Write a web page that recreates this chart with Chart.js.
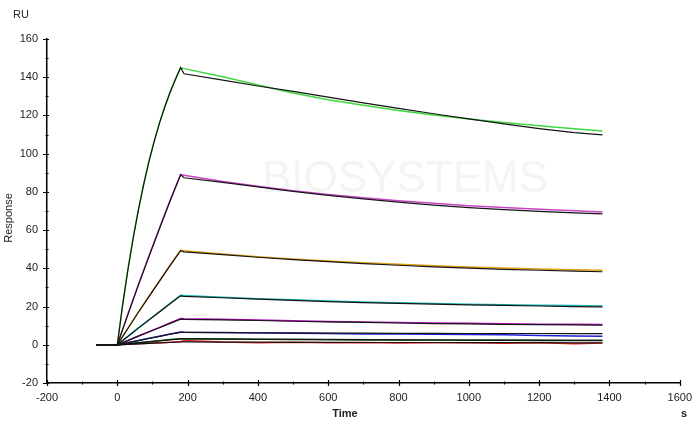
<!DOCTYPE html>
<html>
<head>
<meta charset="utf-8">
<script src="https://cdn.jsdelivr.net/npm/chart.js@4.4.1/dist/chart.umd.min.js"></script>
<style>
  html, body { margin: 0; padding: 0; background: #fff; }
  #c { display: block; }
</style>
</head>
<body>
<canvas id="c" width="700" height="433"></canvas>
<script>
// ---- Data ----
const times = [-60, 0, 30, 60, 90, 120, 150, 180, 190, 300, 400, 500, 600, 700, 800, 900, 1000, 1100, 1200, 1300, 1380];
// the highest curve is sampled more finely during association (it bends visibly)
const timesTop = [-60, 0, 15, 30, 45, 60, 75, 90, 105, 120, 135, 150, 165, 180, 190, 300, 400, 500, 600, 700, 800, 900, 1000, 1100, 1200, 1300, 1380];

const green     = [0, 0, 20.8, 39.4, 56.0, 70.9, 84.2, 96.1, 106.7, 116.2, 124.6, 132.2, 138.9, 145.0, 144.5, 140.2, 135.9, 131.7, 128.2, 125.3, 122.6, 120.2, 118.1, 116.3, 114.6, 113.0, 111.9];
const fitGreen  = [0, 0, 20.6, 39.0, 55.6, 70.5, 83.8, 95.8, 106.4, 116.0, 124.4, 132.0, 138.7, 145.0, 141.8, 138.5, 135.4, 132.6, 129.6, 126.6, 123.7, 120.9, 118.2, 115.6, 113.1, 111.0, 109.8];

const magenta   = [0, 0, 16.0, 31.5, 46.5, 61.0, 75.5, 89.0, 88.7, 85.4, 82.9, 80.6, 78.6, 76.9, 75.3, 74.0, 72.8, 71.8, 70.9, 70.1, 69.5];
const orange    = [0, 0, 8.6, 17.1, 25.4, 33.5, 41.6, 49.4, 49.2, 47.5, 46.1, 44.9, 43.8, 42.9, 42.1, 41.4, 40.7, 40.2, 39.7, 39.3, 39.0];
const cyan      = [0, 0, 4.4, 8.8, 13.1, 17.4, 21.7, 25.9, 25.8, 24.9, 24.1, 23.5, 22.9, 22.4, 22.0, 21.6, 21.2, 20.9, 20.7, 20.5, 20.3];
const purple    = [0, 0, 2.3, 4.6, 6.9, 9.1, 11.4, 13.7, 13.6, 13.3, 13.0, 12.6, 12.2, 11.9, 11.6, 11.4, 11.2, 11.0, 10.8, 10.7, 10.6];
const blue      = [0, 0, 1.1, 2.2, 3.4, 4.5, 5.6, 6.7, 6.6, 6.4, 6.2, 6.0, 5.9, 5.7, 5.6, 5.5, 5.4, 5.3, 4.9, 4.6, 4.4];
const darkGreen = [0, 0, 0.5, 1.1, 1.6, 2.1, 2.7, 3.2, 3.2, 3.0, 2.9, 2.8, 2.7, 2.6, 2.5, 2.5, 2.4, 2.4, 2.3, 2.3, 2.2];
const red       = [0, 0, 0.3, 0.5, 0.8, 1.1, 1.3, 1.6, 2.2, 1.4, 1.1, 1.3, 1.0, 1.2, 0.9, 1.1, 1.0, 0.8, 1.0, 0.6, 0.9];

const fitMagenta   = [0, 0, 15.8, 31.2, 46.2, 60.8, 75.2, 89.0, 87.4, 85.0, 82.6, 80.3, 78.2, 76.3, 74.6, 73.1, 71.8, 70.7, 69.8, 69.0, 68.5];
const fitOrange    = [0, 0, 8.5, 17.0, 25.2, 33.3, 41.4, 49.2, 48.6, 47.2, 45.8, 44.6, 43.5, 42.5, 41.6, 40.8, 40.1, 39.5, 39.0, 38.5, 38.2];
const fitCyan      = [0, 0, 4.3, 8.7, 13.0, 17.2, 21.5, 25.6, 25.3, 24.6, 23.9, 23.2, 22.6, 22.1, 21.7, 21.3, 20.9, 20.6, 20.3, 20.0, 19.8];
const fitPurple    = [0, 0, 2.2, 4.5, 6.7, 8.9, 11.2, 13.4, 13.3, 13.0, 12.7, 12.3, 12.0, 11.7, 11.4, 11.1, 10.9, 10.7, 10.5, 10.4, 10.3];
const fitBlue      = [0, 0, 1.1, 2.2, 3.3, 4.4, 5.5, 6.5, 6.5, 6.4, 6.3, 6.2, 6.1, 6.1, 6.0, 6.0, 5.9, 5.9, 5.9, 5.8, 5.8];
const fitDarkGreen = [0, 0, 0.5, 1.0, 1.5, 2.1, 2.6, 3.1, 3.1, 3.0, 2.9, 2.8, 2.7, 2.6, 2.6, 2.5, 2.5, 2.4, 2.4, 2.3, 2.3];
const fitRed       = [0, 0, 0.2, 0.5, 0.7, 1.0, 1.2, 1.5, 1.5, 1.4, 1.4, 1.3, 1.3, 1.2, 1.2, 1.2, 1.1, 1.1, 1.1, 1.0, 1.0];

const xTicks = [-200, 0, 200, 400, 600, 800, 1000, 1200, 1400, 1600];
const yTicks = [-20, 0, 20, 40, 60, 80, 100, 120, 140, 160];

const dataSeries = [
  { name: 'c1', t: timesTop, values: green,     color: '#3fd83f', fit: fitGreen },
  { name: 'c2', t: times,    values: magenta,   color: '#c844c8', fit: fitMagenta },
  { name: 'c3', t: times,    values: orange,    color: '#e0a010', fit: fitOrange },
  { name: 'c4', t: times,    values: cyan,      color: '#1cb8b8', fit: fitCyan },
  { name: 'c5', t: times,    values: purple,    color: '#c010c8', fit: fitPurple },
  { name: 'c6', t: times,    values: blue,      color: '#2020d0', fit: fitBlue },
  { name: 'c7', t: times,    values: darkGreen, color: '#004a00', fit: fitDarkGreen },
  { name: 'c8', t: times,    values: red,       color: '#f02020', fit: fitRed }
];

const toPts = (tt, vals) => tt.map((t, i) => ({ x: t, y: vals[i] }));

const datasets = [];
dataSeries.forEach(s => datasets.push({
  label: s.name, data: toPts(s.t, s.values), borderColor: s.color, borderWidth: 1.5,
  pointRadius: 0, fill: false, tension: 0, order: 2
}));
dataSeries.forEach(s => datasets.push({
  label: s.name + ' fit', data: toPts(s.t, s.fit), borderColor: '#141414', borderWidth: 1.2,
  pointRadius: 0, fill: false, tension: 0, order: 1
}));

const FONT = "'Liberation Sans', Arial, sans-serif";

const decor = {
  id: 'decor',
  beforeDatasetsDraw(chart) {
    const ctx = chart.ctx;
    ctx.save();
    ctx.fillStyle = '#f4f4f4';
    ctx.font = "44px 'Liberation Sans', Arial, sans-serif";
    ctx.textAlign = 'left';
    ctx.textBaseline = 'middle';
    ctx.fillText('BIOSYSTEMS', 262, 180);
    ctx.restore();
  },
  afterDraw(chart) {
    const ctx = chart.ctx;
    const xs = chart.scales.x, ys = chart.scales.y;
    const ax = chart.chartArea.left, ay = chart.chartArea.bottom;
    ctx.save();
    ctx.strokeStyle = '#000';
    ctx.lineWidth = 1.2;
    ctx.beginPath();
    for (let v = -20; v <= 160; v += 10) {
      const py = Math.round(ys.getPixelForValue(v)) + 0.5;
      const major = v % 20 === 0;
      ctx.moveTo(ax - (major ? 4 : 1.5), py);
      ctx.lineTo(ax + (major ? 2 : 1.5), py);
    }
    for (let v = -200; v <= 1600; v += 100) {
      const px = Math.round(xs.getPixelForValue(v)) + 0.5;
      const major = v % 200 === 0;
      ctx.moveTo(px, ay - (major ? 3 : 1.5));
      ctx.lineTo(px, ay + (major ? 3 : 1.5));
    }
    ctx.stroke();

    ctx.fillStyle = '#222';
    ctx.font = "11px " + FONT;
    ctx.textAlign = 'left';
    ctx.textBaseline = 'middle';
    ctx.fillText('RU', 13, 15);
    ctx.save();
    ctx.translate(9, 218);
    ctx.rotate(-Math.PI / 2);
    ctx.textAlign = 'center';
    ctx.fillText('Response', 0, 0);
    ctx.restore();
    ctx.font = "bold 11px " + FONT;
    ctx.textAlign = 'center';
    ctx.fillText('Time', 345, 414);
    ctx.fillText('s', 684, 414);
    ctx.restore();
  }
};

Chart.defaults.font.family = FONT;
Chart.defaults.font.size = 11;
Chart.defaults.color = '#222';

new Chart(document.getElementById('c'), {
  type: 'line',
  data: { datasets },
  options: {
    responsive: false,
    animation: false,
    layout: { padding: { left: 0, top: 39, right: 19, bottom: 0 } },
    plugins: { legend: { display: false }, tooltip: { enabled: false } },
    scales: {
      x: {
        type: 'linear', min: -200, max: 1600,
        afterBuildTicks: s => { s.ticks = xTicks.map(v => ({ value: v })); },
        afterFit: s => { s.height = 50; },
        grid: { display: false, drawTicks: false },
        border: { display: true, color: '#000', width: 1.5 },
        ticks: { padding: 8, maxRotation: 0, autoSkip: false, color: '#222', callback: v => String(v) }
      },
      y: {
        type: 'linear', min: -20, max: 160,
        afterBuildTicks: s => { s.ticks = yTicks.map(v => ({ value: v })); },
        afterFit: s => { s.width = 47; },
        grid: { display: false, drawTicks: false },
        border: { display: true, color: '#000', width: 1.5 },
        ticks: { padding: 9, autoSkip: false, color: '#222', callback: v => String(v) }
      }
    }
  },
  plugins: [decor]
});
</script>
</body>
</html>
